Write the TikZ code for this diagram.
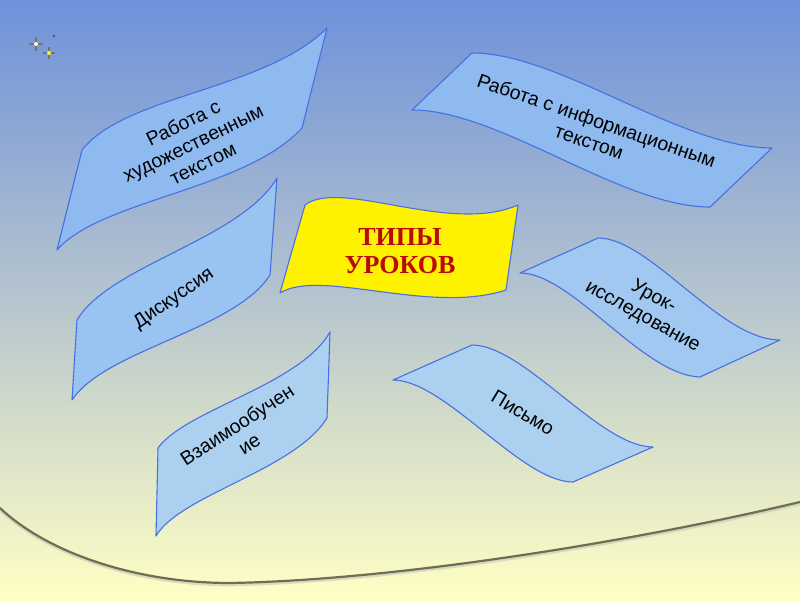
\documentclass[tikz,border=0pt]{standalone}
\usepackage{fontspec}
\setmainfont{Liberation Sans}
\newfontfamily\serifb{Liberation Serif}
\definecolor{bgtop}{RGB}{110,145,218}
\definecolor{bgmid}{RGB}{182,197,206}
\definecolor{bgbot}{RGB}{255,255,196}
\definecolor{bordc}{RGB}{72,112,226}
\definecolor{fillA}{RGB}{143,186,240}
\definecolor{fillB}{RGB}{153,195,240}
\definecolor{fillC}{RGB}{160,200,240}
\definecolor{fillD}{RGB}{172,209,240}
\definecolor{tred}{RGB}{185,10,10}
\definecolor{curvec}{RGB}{112,110,82}
\begin{document}
\begin{tikzpicture}[x=1pt,y=-1pt,
  banner/.style={draw=bordc, line width=1.1pt, line join=round},
  lbl/.style={font=\fontsize{19.5}{22.5}\selectfont, text=black, align=center, inner sep=0pt},
  spark/.style={draw=black!55, line width=1.3pt}
]
\useasboundingbox (0,0) rectangle (800,600);
\shade[top color=bgtop, bottom color=bgmid] (0,0) rectangle (800,300.5);
\shade[top color=bgmid, bottom color=bgbot] (0,300) rectangle (800,600);

% sparkles
\draw[spark] (29,44) -- (43,44) (36,37) -- (36,51);
\fill[white!80!yellow] (36,44) circle (2);
\draw[spark] (43,53) -- (55,53) (49,47) -- (49,59);
\fill[yellow!90!white] (49,53) circle (2);
\fill[black!50!blue] (54,36) circle (0.9);

% bottom curve
\draw[line width=2.5pt, curvec!40!white, opacity=0.6] (0,510) .. controls (50,557) and (140,585) .. (230,585) .. controls (400,582) and (640,542) .. (800,504);
\draw[line width=2.2pt, curvec] (0,508) .. controls (50,555) and (140,583) .. (230,583) .. controls (400,580) and (640,540) .. (800,502);

% banners
\draw[banner, fill=fillA] (82,150) .. controls (125,95) and (265,90) .. (327,28) -- (302,128) .. controls (245,190) and (100,200) .. (57,250) -- cycle;
\draw[banner, fill=fillA] (472,53) .. controls (560,53) and (680,148) .. (772,148) -- (710,207) .. controls (620,207) and (500,110) .. (412,110) -- cycle;
\draw[banner, fill=fillB] (77,320) .. controls (110,265) and (240,240) .. (277,178) -- (270,275) .. controls (235,330) and (105,350) .. (72,400) -- cycle;
\draw[banner, fill=fillC] (598,238) .. controls (650,238) and (720,340) .. (780,340) -- (700,377) .. controls (642,375) and (572,273) .. (520,273) -- cycle;
\draw[banner, fill=fillD] (158,448) .. controls (185,410) and (300,385) .. (330,332) -- (327,418) .. controls (295,470) and (180,495) .. (156,536) -- cycle;
\draw[banner, fill=fillD] (472,345) .. controls (524,345) and (600,447) .. (653,447) -- (573,482) .. controls (521,482) and (445,380) .. (393,380) -- cycle;
\draw[banner, fill=yellow] (305,205) .. controls (340,178) and (450,235) .. (518,205) -- (506,290) .. controls (430,315) and (320,268) .. (280,293) -- cycle;

% labels
\node[lbl, rotate=26] (art) at (193,143) {Работа с\\художественным\\текстом};
\node[lbl, rotate=-19] (info) at (593,131) {Работа с информационным\\текстом};
\node[lbl, rotate=35] (disc) at (174,299) {Дискуссия};
\node[lbl, rotate=33] (mutual) at (243,434) {Взаимообучен\\ие};
\node[lbl, rotate=-29] (research) at (648,307) {Урок-\\исследование};
\node[lbl, rotate=-31] (writing) at (523,413) {Письмо};
\node[font=\serifb\bfseries\fontsize{26}{28}\selectfont, text=tred, align=center, inner sep=0pt] (title) at (400,251) {ТИПЫ\\УРОКОВ};
\end{tikzpicture}
\end{document}
